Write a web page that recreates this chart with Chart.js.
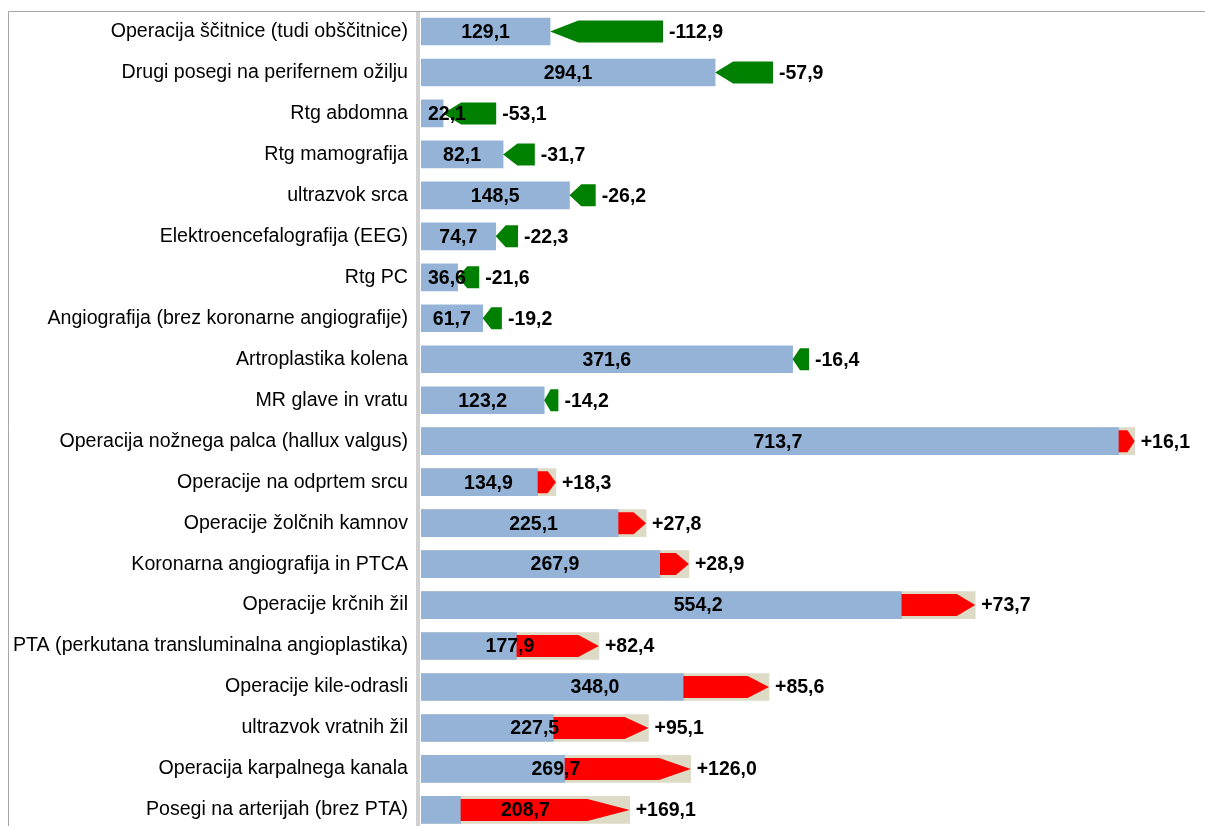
<!DOCTYPE html>
<html>
<head>
<meta charset="utf-8">
<script src="https://cdn.jsdelivr.net/npm/chart.js@4.4.1/dist/chart.umd.min.js"></script>
<style>
  html, body { margin: 0; padding: 0; background: #fff; overflow: hidden; }
  #wrap { width: 1205px; height: 840px; position: relative; }
</style>
</head>
<body>
<div id="wrap"><canvas id="chart"></canvas></div>
<script>
const categories = [
  'Operacija ščitnice (tudi obščitnice)',
  'Drugi posegi na perifernem ožilju',
  'Rtg abdomna',
  'Rtg mamografija',
  'ultrazvok srca',
  'Elektroencefalografija (EEG)',
  'Rtg PC',
  'Angiografija (brez koronarne angiografije)',
  'Artroplastika kolena',
  'MR glave in vratu',
  'Operacija nožnega palca (hallux valgus)',
  'Operacije na odprtem srcu',
  'Operacije žolčnih kamnov',
  'Koronarna angiografija in PTCA',
  'Operacije krčnih žil',
  'PTA (perkutana transluminalna angioplastika)',
  'Operacije kile-odrasli',
  'ultrazvok vratnih žil',
  'Operacija karpalnega kanala',
  'Posegi na arterijah (brez PTA)'
];
const values = [129.1, 294.1, 22.1, 82.1, 148.5, 74.7, 36.6, 61.7, 371.6, 123.2,
                713.7, 134.9, 225.1, 267.9, 554.2, 177.9, 348.0, 227.5, 269.7, 208.7];
const changes = [-112.9, -57.9, -53.1, -31.7, -26.2, -22.3, -21.6, -19.2, -16.4, -14.2,
                 16.1, 18.3, 27.8, 28.9, 73.7, 82.4, 85.6, 95.1, 126.0, 169.1];

const fmt = v => v.toFixed(1).replace('.', ',');
const signed = v => (v > 0 ? '+' : '') + fmt(v);

// beige total bar only for increases, blue base, arrow span
const totalBars = values.map((v, i) => changes[i] > 0 ? [0, v] : null);
const baseBars = values.map((v, i) => changes[i] > 0 ? [0, v - changes[i]] : [0, v]);
const arrowBars = values.map((v, i) => changes[i] > 0 ? [v - changes[i], v] : [v, v - changes[i]]);

const FONT = 'Arial, "Liberation Sans", sans-serif';

const arrowPlugin = {
  id: 'arrows',
  beforeDraw(chart) {
    const { ctx, chartArea: a } = chart;
    ctx.save();
    ctx.strokeStyle = '#a6a6a6';
    ctx.lineWidth = 1;
    ctx.beginPath();
    ctx.moveTo(8.5, chart.height);
    ctx.lineTo(8.5, a.top + 0.5);
    ctx.lineTo(chart.width, a.top + 0.5);
    ctx.stroke();
    ctx.restore();
  },
  beforeDatasetsDraw(chart) {
    const { ctx, chartArea: a } = chart;
    ctx.save();
    ctx.fillStyle = '#d0d0d0';
    ctx.fillRect(a.left - 5, a.top + 1, 4, a.bottom - a.top);
    ctx.restore();
  },
  afterDatasetsDraw(chart) {
    const { ctx } = chart;
    const x = chart.scales.x;
    const arrows = chart.getDatasetMeta(2).data;
    ctx.save();
    arrows.forEach((el, i) => {
      const left = Math.min(el.x, el.base);
      const right = Math.max(el.x, el.base);
      const len = right - left;
      const h = el.height;
      const top = el.y - h / 2, bot = el.y + h / 2;
      const head = Math.max(Math.min(len * 0.45, 18), len * 0.25);
      ctx.beginPath();
      if (changes[i] < 0) {
        ctx.fillStyle = '#008000';
        ctx.moveTo(left, el.y);
        ctx.lineTo(left + head, top);
        ctx.lineTo(right, top);
        ctx.lineTo(right, bot);
        ctx.lineTo(left + head, bot);
      } else {
        ctx.fillStyle = '#ff0000';
        ctx.moveTo(right, el.y);
        ctx.lineTo(right - head, top);
        ctx.lineTo(left, top);
        ctx.lineTo(left, bot);
        ctx.lineTo(right - head, bot);
      }
      ctx.closePath();
      ctx.fill();
    });

    ctx.font = 'bold 19.5px ' + FONT;
    ctx.fillStyle = '#000';
    ctx.textBaseline = 'middle';
    arrows.forEach((el, i) => {
      const zero = x.getPixelForValue(0);
      const end = x.getPixelForValue(values[i]);
      const txt = fmt(values[i]);
      const w = ctx.measureText(txt).width;
      ctx.textAlign = 'center';
      ctx.fillText(txt, Math.max((zero + end) / 2, zero + 7 + w / 2), el.y + 1);
      const far = x.getPixelForValue(Math.max(values[i], values[i] - changes[i]));
      ctx.textAlign = 'left';
      ctx.fillText(signed(changes[i]), far + 6, el.y + 1);
    });
    ctx.restore();
  }
};

new Chart(document.getElementById('chart'), {
  type: 'bar',
  data: {
    labels: categories,
    datasets: [
      { label: 'Skupaj', data: totalBars, backgroundColor: '#dddbc6', barThickness: 27, grouped: false, order: 3 },
      { label: 'Osnova', data: baseBars, backgroundColor: '#95b3d7', barThickness: 27, grouped: false, order: 2 },
      { label: 'Sprememba', data: arrowBars, backgroundColor: 'rgba(0,0,0,0)', barThickness: 22, grouped: false, order: 1 }
    ]
  },
  options: {
    indexAxis: 'y',
    responsive: true,
    maintainAspectRatio: false,
    animation: false,
    layout: { padding: { top: 11, bottom: 9.6, left: 0, right: 0 } },
    scales: {
      x: { display: false, min: 0, max: 784 },
      y: {
        afterFit(scale) {
          scale.width = 421;
          scale.paddingTop = 0;
          scale.paddingBottom = 0;
        },
        grid: { display: false, drawTicks: false },
        border: { display: false },
        ticks: {
          autoSkip: false,
          padding: 13,
          color: '#000',
          font: { family: FONT, size: 19.6 }
        }
      }
    },
    plugins: {
      legend: { display: false },
      tooltip: { enabled: false }
    }
  },
  plugins: [arrowPlugin]
});
</script>
</body>
</html>
